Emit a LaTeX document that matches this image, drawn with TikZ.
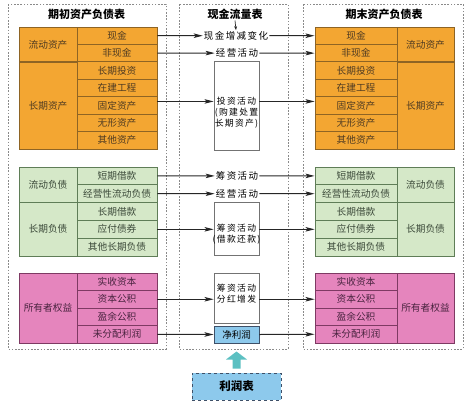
\documentclass[tikz,border=0pt]{standalone}
\usepackage{fontspec}
\setmainfont{Noto Sans CJK SC}
\newfontfamily\cjksp{Noto Sans CJK SC}[LetterSpace=15]
\usetikzlibrary{arrows.meta,calc}
\definecolor{ofill}{HTML}{F3A632}
\definecolor{oline}{HTML}{8E6424}
\definecolor{otext}{HTML}{4F3B22}
\definecolor{gfill}{HTML}{D5E8C8}
\definecolor{gline}{HTML}{5F7D57}
\definecolor{gtext}{HTML}{3C4A3A}
\definecolor{pfill}{HTML}{E585BD}
\definecolor{pline}{HTML}{7E3A63}
\definecolor{ptext}{HTML}{4A2440}
\definecolor{bfill}{HTML}{8DC9EC}
\definecolor{bline}{HTML}{3E5068}
\definecolor{framec}{HTML}{8A8A8A}
\definecolor{upc}{HTML}{5CC0C2}
\begin{document}
\begin{tikzpicture}[x=1pt,y=-1pt,
  cell/.style={draw, rectangle, inner sep=0pt, line width=0.9pt, font=\fontsize{9.7}{11}\selectfont},
  ocell/.style={cell, fill=ofill, draw=oline, text=otext},
  gcell/.style={cell, fill=gfill, draw=gline, text=gtext},
  pcell/.style={cell, fill=pfill, draw=pline, text=ptext},
  frm/.style={draw=framec, line width=0.8pt, dash pattern=on 1.6pt off 1.6pt},
  ttl/.style={font=\bfseries\fontsize{11}{13}\selectfont, inner sep=1pt},
  flow/.style={draw=black!85, line width=1pt, -{Stealth[length=9pt,width=4.5pt,inset=2pt]}},
  lbl/.style={font=\cjksp\fontsize{9.5}{11}\selectfont, inner sep=1pt},
  abox/.style={draw=black!55, line width=0.9pt, rectangle, inner sep=0pt, minimum width=45pt},
  btxt/.style={font=\cjksp\fontsize{8.8}{11}\selectfont, align=center, inner sep=0pt},
]
\useasboundingbox (0,0) rectangle (474,410);
% frames
\draw[frm] (8,4) rectangle (166,349);
\draw[frm] (179,4) rectangle (288,349);
\draw[frm] (303,4) rectangle (463,349);
% titles
\node[ttl] (lt) at (86.5,14) {期初资产负债表};
\node[ttl] (ct) at (235,14) {现金流量表};
\node[ttl] (rt) at (384,14) {期末资产负债表};
% orange tables
\foreach \t [count=\i] in {现金,非现金,长期投资,在建工程,固定资产,无形资产,其他资产} {
  \node[ocell, minimum width=80pt, minimum height=17.43pt] (Lo\i) at (117,{27+17.43*\i-8.715}) {\t};
  \node[ocell, minimum width=82pt, minimum height=17.43pt] (Ro\i) at (356,{27+17.43*\i-8.715}) {\t};
}
\node[ocell, minimum width=58pt, minimum height=34.86pt] (Log1) at (48,44.43) {流动资产};
\node[ocell, minimum width=58pt, minimum height=87.15pt] (Log2) at (48,105.57) {长期资产};
\node[ocell, minimum width=57pt, minimum height=34.86pt] (Rog1) at (425.5,44.43) {流动资产};
\node[ocell, minimum width=57pt, minimum height=87.15pt] (Rog2) at (425.5,105.57) {长期资产};
% green tables
\foreach \t [count=\i] in {短期借款,经营性流动负债,长期借款,应付债券,其他长期负债} {
  \node[gcell, minimum width=80pt, minimum height=17.8pt] (Lg\i) at (117,{167+17.8*\i-8.9}) {\t};
  \node[gcell, minimum width=82pt, minimum height=17.8pt] (Rg\i) at (356,{167+17.8*\i-8.9}) {\t};
}
\node[gcell, minimum width=58pt, minimum height=35.6pt] (Lgg1) at (48,184.8) {流动负债};
\node[gcell, minimum width=58pt, minimum height=53.4pt] (Lgg2) at (48,229.3) {长期负债};
\node[gcell, minimum width=57pt, minimum height=35.6pt] (Rgg1) at (425.5,184.8) {流动负债};
\node[gcell, minimum width=57pt, minimum height=53.4pt] (Rgg2) at (425.5,229.3) {长期负债};
% pink tables
\foreach \t [count=\i] in {实收资本,资本公积,盈余公积,未分配利润} {
  \node[pcell, minimum width=80pt, minimum height=17.5pt] (Lp\i) at (117,{273+17.5*\i-8.75}) {\t};
  \node[pcell, minimum width=82pt, minimum height=17.5pt] (Rp\i) at (356,{273+17.5*\i-8.75}) {\t};
}
\node[pcell, minimum width=58pt, minimum height=70pt] (Lpg) at (48,308) {所有者权益};
\node[pcell, minimum width=57pt, minimum height=70pt] (Rpg) at (425.5,308) {所有者权益};
% centre column
\node[lbl] (cashchg) at (236,35.7) {现金增减变化};
\node[lbl] (op1) at (237,53.1) {经营活动};
\node[abox, minimum height=89pt] (inv) at (236.5,105.5) {};
\node[btxt] (invt) at (236.5,112.4) {投资活动\\(购建处置\\长期资产)};
\node[lbl] (fin1) at (237,175.9) {筹资活动};
\node[lbl] (op2) at (237,193.7) {经营活动};
\node[abox, minimum height=53pt] (finb) at (236.5,228.5) {};
\node[btxt] (finbt) at (236.5,234.3) {筹资活动\\(借款还款)};
\node[abox, minimum height=50pt] (divb) at (236.5,298) {};
\node[btxt] (divbt) at (236.5,293.5) {筹资活动\\分红增发};
\node[abox, draw=bline, fill=bfill, minimum height=17pt, font=\fontsize{9.5}{11}\selectfont] (net) at (236.5,334.5) {净利润};
\node[draw=bline, fill=bfill, line width=1pt, dashed, minimum width=89pt, minimum height=27pt, inner sep=0pt, font=\bfseries\fontsize{11.5}{13}\selectfont] (profit) at (236.5,386.5) {利润表};
% up arrow
\fill[upc] ($(profit.north)+(-4,-4)$) -- ++(0,-9) -- ++(-6.5,0) -- ($(profit.north)+(0,-21)$) -- ++(10.5,8) -- ++(-6.5,0) -- ++(0,9) -- cycle;
% title arrow
\draw[black!85, line width=0.7pt, -{Stealth[length=4pt,width=3pt]}] (ct.south) -- (cashchg.north);
% flows
\draw[flow] (Lo1.east) -- (cashchg.west);
\draw[flow] (cashchg.east) -- (Ro1.west);
\draw[flow] (Lo2.east) -- (op1.west);
\draw[flow] (op1.east) -- (Ro2.west);
\draw[flow] ([yshift=4pt]Lo5.east) -- ([yshift=4pt]Lo5.east -| inv.west);
\draw[flow] ([yshift=4pt]Lo5.east -| inv.east) -- ([yshift=4pt]Ro5.west);
\draw[flow] (Lg1.east) -- (fin1.west);
\draw[flow] (fin1.east) -- (Rg1.west);
\draw[flow] (Lg2.east) -- (op2.west);
\draw[flow] (op2.east) -- (Rg2.west);
\draw[flow] (Lg4.east) -- (Lg4.east -| finb.west);
\draw[flow] (Lg4.east -| finb.east) -- (Rg4.west);
\draw[flow] (Lp2.east) -- (Lp2.east -| divb.west);
\draw[flow] (Lp2.east -| divb.east) -- (Rp2.west);
\draw[flow] (Lp4.east) -- (net.west);
\draw[flow] (net.east) -- (Rp4.west);
\end{tikzpicture}
\end{document}
